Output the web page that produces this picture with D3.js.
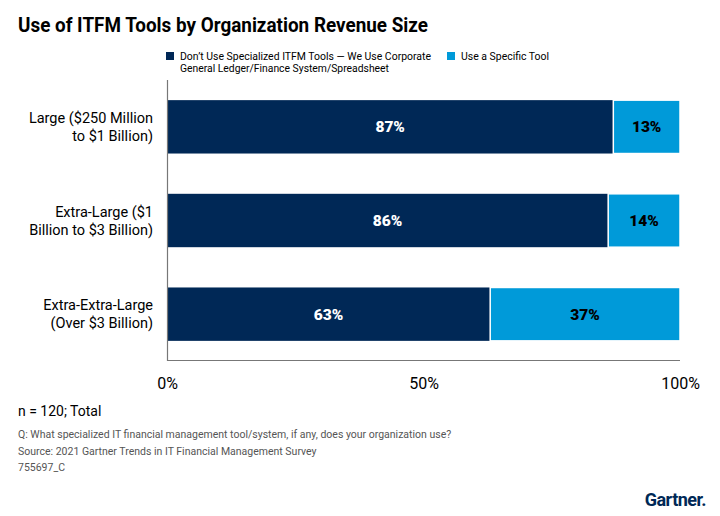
<!DOCTYPE html>
<html><head><meta charset="utf-8">
<script src="https://cdn.jsdelivr.net/npm/d3@7"></script>
<style>body{margin:0;background:#fff}svg{display:block}</style>
</head><body>
<svg id="chart" width="720" height="516"></svg>
<script>
const categories = [
  ["Large ($250 Million", "to $1 Billion)"],
  ["Extra-Large ($1", "Billion to $3 Billion)"],
  ["Extra-Extra-Large", "(Over $3 Billion)"]
];
const seriesNames = [
  ["Don’t Use Specialized ITFM Tools — We Use Corporate", "General Ledger/Finance System/Spreadsheet"],
  ["Use a Specific Tool"]
];
const dontUse = [87, 86, 63];
const useTool = [13, 14, 37];
const tickValues = [0, 50, 100];
const colors = ["#002856", "#009ad9"];

const svg = d3.select("#chart");
const font = "Roboto, 'Liberation Sans', Arial, sans-serif";
const x = d3.scaleLinear().domain([0, 100]).range([167, 680]);
const y = d3.scaleBand().domain(d3.range(categories.length)).range([80, 361]).paddingInner(0.43).paddingOuter(0.215);

// title
svg.append("text").attr("x", 18).attr("y", 32).attr("font-family", font).attr("font-weight", 700)
  .attr("font-size", 20).attr("fill", "#000").attr("textLength", 410).attr("lengthAdjust", "spacingAndGlyphs")
  .text("Use of ITFM Tools by Organization Revenue Size");

// legend
const legX = [166, 447];
const legLen = [[251, 209], [88]];
seriesNames.forEach((lines, i) => {
  svg.append("rect").attr("x", legX[i]).attr("y", 52).attr("width", 8).attr("height", 8).attr("fill", colors[i]);
  lines.forEach((l, j) => svg.append("text").attr("x", legX[i] + 14).attr("y", 60 + j * 12).attr("font-family", font)
    .attr("font-size", 10).attr("fill", "#000").attr("textLength", legLen[i][j]).attr("lengthAdjust", "spacingAndGlyphs").text(l));
});

// bars
const stacked = categories.map((c, i) => [
  {x0: 0, x1: dontUse[i], v: dontUse[i], s: 0},
  {x0: dontUse[i], x1: dontUse[i] + useTool[i], v: useTool[i], s: 1}
]);
const g = svg.append("g");
stacked.forEach((segs, i) => {
  segs.forEach(d => {
    g.append("rect").attr("x", x(d.x0)).attr("y", y(i)).attr("width", x(d.x1) - x(d.x0))
      .attr("height", y.bandwidth()).attr("fill", colors[d.s])
      .attr("stroke", "#fff").attr("stroke-width", d.s === 1 ? 1.5 : 0);
    g.append("text").attr("x", (x(d.x0) + x(d.x1)) / 2).attr("y", y(i) + y.bandwidth() / 2 + 5.5)
      .attr("text-anchor", "middle").attr("font-family", font).attr("font-weight", 900)
      .attr("font-size", 15.5).attr("fill", d.s === 0 ? "#fff" : "#000").text(d.v + "%");
  });
});

// category labels
categories.forEach((lines, i) => {
  const cy = y(i) + y.bandwidth() / 2;
  const t = svg.append("text").attr("x", 153).attr("y", cy - 4).attr("text-anchor", "end")
    .attr("font-family", font).attr("font-size", 14.5).attr("fill", "#000");
  lines.forEach((l, j) => t.append("tspan").attr("x", 153).attr("dy", j === 0 ? 0 : 18).text(l));
});

// axes lines
svg.append("line").attr("x1", 167.5).attr("x2", 167.5).attr("y1", 80).attr("y2", 361).attr("stroke", "#777").attr("stroke-width", 1.2);
svg.append("line").attr("x1", 167).attr("x2", 680).attr("y1", 360.5).attr("y2", 360.5).attr("stroke", "#777").attr("stroke-width", 1.2);

// x tick labels
const xAxis = d3.axisBottom(x).tickValues(tickValues).tickFormat(d => d + "%").tickSize(0).tickPadding(0);
const ax = svg.append("g").attr("transform", "translate(0,378)").call(xAxis);
ax.select(".domain").remove();
ax.selectAll("text").attr("font-family", font).attr("font-size", 16).attr("fill", "#000");

// footnotes
svg.append("text").attr("x", 18).attr("y", 416).attr("font-family", font).attr("font-size", 14).attr("fill", "#000").text("n = 120; Total");
const notes = ["Q: What specialized IT financial management tool/system, if any, does your organization use?",
  "Source: 2021 Gartner Trends in IT Financial Management Survey", "755697_C"];
notes.forEach((n, i) => svg.append("text").attr("x", 18).attr("y", 438 + i * 16.5).attr("font-family", font)
  .attr("font-size", 10.5).attr("fill", "#555").text(n));

// logo
svg.append("text").attr("x", 706).attr("y", 506).attr("text-anchor", "end").attr("font-family", font)
  .attr("font-weight", 700).attr("font-size", 18).attr("fill", "#002856").attr("letter-spacing", -0.5).text("Gartner.");
</script>
</body></html>
